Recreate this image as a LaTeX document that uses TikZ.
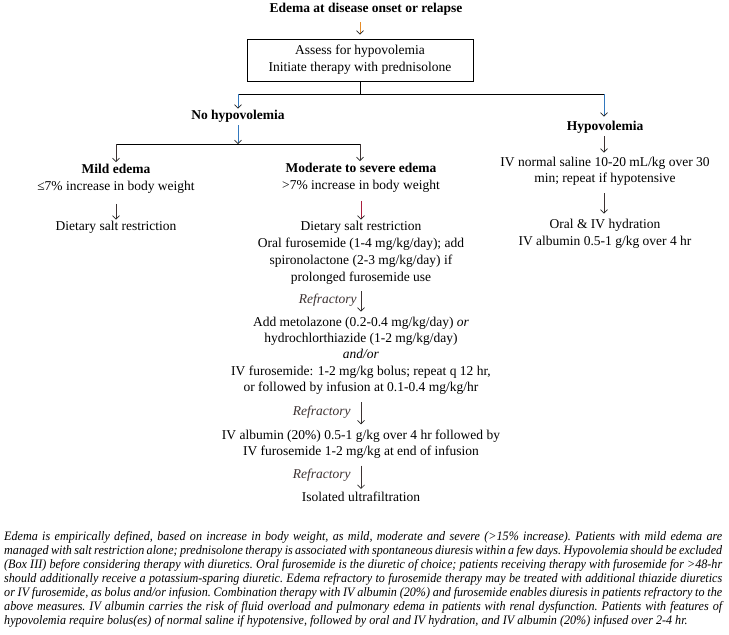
\documentclass[tikz,border=0pt]{standalone}
\usepackage{fontspec}
\setmainfont{Liberation Serif}
\newfontfamily\notefont[FakeStretch=0.94]{Liberation Serif}
\usetikzlibrary{arrows.meta}
\definecolor{arrorange}{RGB}{230,140,40}
\definecolor{arrblue}{RGB}{50,120,190}
\definecolor{arrred}{RGB}{170,30,60}
\definecolor{arrdark}{RGB}{60,50,50}
\begin{document}
\begin{tikzpicture}[x=1pt,y=-1pt,
  txt/.style={inner sep=0pt, align=center, font=\fontsize{13.5}{17}\selectfont},
  hd/.style={txt, font=\fontsize{13.5}{17}\selectfont\bfseries},
  ln/.style={line width=0.8pt},
  arr/.style={line width=0.7pt, -{Straight Barb[length=3.5pt,width=7pt,line width=0.7pt,color=black!85]}},
  refr/.style={left, inner sep=0pt, xshift=-4pt, font=\fontsize{13.5}{17}\selectfont\itshape},
]
\useasboundingbox[fill=white] (0,0) rectangle (729,635);

% top
\node[hd] (t) at (366,9) {Edema at disease onset or relapse};
\node[txt, draw, line width=0.8pt, minimum width=226pt, minimum height=42pt] (box) at (360,60)
  {Assess for hypovolemia\\Initiate therapy with prednisolone};
\draw[arr, arrorange, shorten <=7pt, shorten >=4pt] (box.north |- t.south) -- (box.north);

\coordinate (jL) at (238,94);
\coordinate (jR) at (604,94);
\draw[ln] (box.south) -- (box.south |- jL);
\draw[ln] (jL) -- (jR);

% no hypovolemia branch
\node[hd] (noh) at (238,116) {No hypovolemia};
\draw[arr, arrblue, shorten >=1pt] (jL) -- (noh.north);
\coordinate (j2) at (238,144);
\coordinate (jML) at (116,144);
\coordinate (jMR) at (360,144);
\draw[arr, arrblue, shorten <=3pt] (noh.south) -- (j2);
\draw[ln] (jML) -- (jMR);

\node[txt] (mild) at (116,179) {\textbf{Mild edema}\\≤7\% increase in body weight};
\draw[arr, arrdark, shorten >=2pt] (jML) -- (mild.north);
\node[txt] (mildd) at (116,227) {Dietary salt restriction};
\draw[arr, arrdark, shorten <=10pt, shorten >=1pt] (mild.south) -- (mildd.north);

\node[txt] (mod) at (361,178) {\textbf{Moderate to severe edema}\\>7\% increase in body weight};
\draw[arr, arrdark, shorten >=2pt] (jMR) -- (jMR |- mod.north);
\node[txt] (mod1) at (361,252.5) {Dietary salt restriction\\Oral furosemide (1-4 mg/kg/day); add\\spironolactone (2-3 mg/kg/day) if\\prolonged furosemide use};
\draw[arr, arrred, shorten <=8pt, shorten >=1pt] (mod.south) -- (mod1.north);

\node[txt, font=\fontsize{13.5}{16.3}\selectfont] (mod2) at (361,355.5) {Add metolazone (0.2-0.4 mg/kg/day) \textit{or}\\hydrochlorthiazide (1-2 mg/kg/day)\\\textit{and/or}\\IV furosemide: 1-2 mg/kg bolus; repeat q 12 hr,\\or followed by infusion at 0.1-0.4 mg/kg/hr};
\draw[arr, arrdark, shorten <=7pt, shorten >=5pt] (mod1.south) -- node[refr] {Refractory} (mod2.north);

\node[txt, font=\fontsize{13.5}{16.5}\selectfont] (mod3) at (361,444) {IV albumin (20\%) 0.5-1 g/kg over 4 hr followed by\\IV furosemide 1-2 mg/kg at end of infusion};
\draw[arr, arrdark, shorten <=8pt, shorten >=5pt] (mod2.south) -- node[refr, xshift=-6pt] {Refractory} (mod3.north);

\node[txt] (mod4) at (361,497) {Isolated ultrafiltration};
\draw[arr, arrdark, shorten <=7pt, shorten >=3pt] (mod3.south) -- node[refr, xshift=-6pt] {Refractory} (mod4.north);

% hypovolemia branch
\node[hd] (hyp) at (605,127) {Hypovolemia};
\draw[arr, arrblue, shorten >=4pt] (jR) -- (jR |- hyp.north);
\node[txt, font=\fontsize{13.5}{16}\selectfont] (hyp1) at (605,171) {IV normal saline 10-20 mL/kg over 30\\min; repeat if hypotensive};
\draw[arr, arrdark, shorten <=3pt, shorten >=4pt] (hyp.south -| jR) -- (hyp1.north -| jR);
\node[txt] (hyp2) at (605,233.5) {Oral \& IV hydration\\IV albumin 0.5-1 g/kg over 4 hr};
\draw[arr, arrdark, shorten <=8pt, shorten >=5pt] (hyp1.south -| jR) -- (hyp2.north -| jR);

% footnote
\node[anchor=north west, inner sep=0pt, text width=718pt, align=justify,
      font=\notefont\itshape\fontsize{12.9}{14}\selectfont\frenchspacing] (note) at (4,531)
{Edema is empirically defined, based on increase in body weight, as mild, moderate and severe (>15\% increase). Patients with mild edema are\linebreak
managed with salt restriction alone; prednisolone therapy is associated with spontaneous diuresis within a few days. Hypovolemia should be excluded\linebreak
(Box III) before considering therapy with diuretics. Oral furosemide is the diuretic of choice; patients receiving therapy with furosemide for >48-hr\linebreak
should additionally receive a potassium-sparing diuretic. Edema refractory to furosemide therapy may be treated with additional thiazide diuretics\linebreak
or IV furosemide, as bolus and/or infusion. Combination therapy with IV albumin (20\%) and furosemide enables diuresis in patients refractory to the\linebreak
above measures. IV albumin carries the risk of fluid overload and pulmonary edema in patients with renal dysfunction. Patients with features of\linebreak
hypovolemia require bolus(es) of normal saline if hypotensive, followed by oral and IV hydration, and IV albumin (20\%) infused over 2-4 hr.};
\end{tikzpicture}
\end{document}
